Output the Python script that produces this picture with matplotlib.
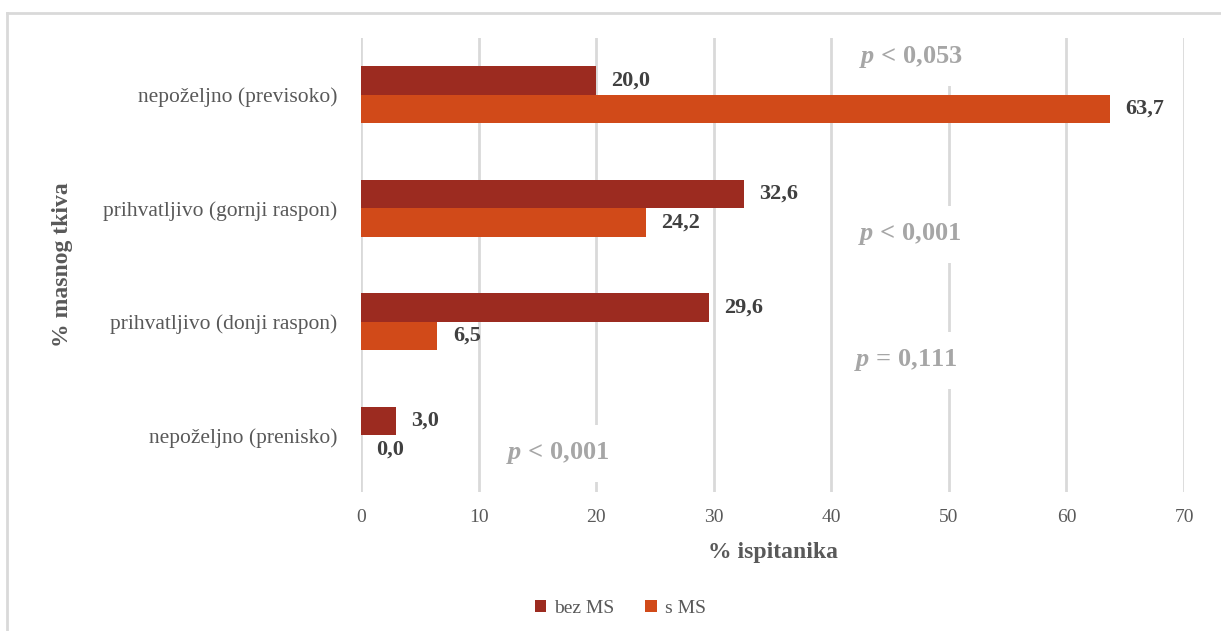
import matplotlib.pyplot as plt
from matplotlib.lines import Line2D
import numpy as np

plt.rcParams['font.family'] = ['Liberation Serif', 'DejaVu Serif']
plt.rcParams['mathtext.fontset'] = 'custom'
plt.rcParams['mathtext.it'] = 'Liberation Serif:italic:bold'
plt.rcParams['mathtext.rm'] = 'Liberation Serif:bold'

# categories top to bottom
categories = ['nepoželjno (previsoko)', 'prihvatljivo (gornji raspon)',
              'prihvatljivo (donji raspon)', 'nepoželjno (prenisko)']
bez_ms = [20.0, 32.6, 29.6, 3.0]
s_ms = [63.7, 24.2, 6.5, 0.0]
p_labels = ['< 0,053', '< 0,001', '= 0,111', '< 0,001']
p_x = [46.8, 46.7, 46.3, 16.7]
p_y = [-0.33, 1.23, 2.34, 3.16]

dark = '#9c2b20'
orange = '#d14a19'
txt = '#595959'

fig = plt.figure(figsize=(12.21, 6.31), dpi=100)
ax = fig.add_axes([0.2957, 0.2203, 0.6740, 0.7195])

y = np.arange(len(categories))
h = 0.25
ax.barh(y - h / 2, bez_ms, height=h, color=dark, label='bez MS')
ax.barh(y + h / 2, s_ms, height=h, color=orange, label='s MS')

for i in range(len(categories)):
    ax.text(bez_ms[i] + 1.3, y[i] - h / 2, ('%.1f' % bez_ms[i]).replace('.', ','),
            ha='left', va='center', fontsize=16, fontweight='bold', color='#404040')
    ax.text(s_ms[i] + 1.3, y[i] + h / 2, ('%.1f' % s_ms[i]).replace('.', ','),
            ha='left', va='center', fontsize=16, fontweight='bold', color='#404040')

for lab, px, py in zip(p_labels, p_x, p_y):
    ax.text(px, py, '$p$ ' + lab, ha='center', va='center',
            fontsize=19, fontweight='bold', color='#a6a6a6', zorder=5,
            bbox=dict(facecolor='white', edgecolor='none', pad=11))

ax.set_xlim(0, 70)
ax.set_ylim(3.5, -0.5)
ax.set_xticks(range(0, 71, 10))
ax.set_yticks(y)
ax.set_yticklabels(categories)
ax.tick_params(axis='x', length=0, pad=12, labelsize=14, labelcolor=txt)
ax.tick_params(axis='y', length=0, pad=17, labelsize=15.5, labelcolor=txt)
ax.grid(axis='x', color='#d9d9d9', linewidth=2)
ax.set_axisbelow(True)
for s in ax.spines.values():
    s.set_visible(False)

ax.set_xlabel('% ispitanika', fontsize=17, fontweight='bold', color=txt, labelpad=12)
ax.set_ylabel('% masnog tkiva', fontsize=17, fontweight='bold', color=txt, labelpad=22)

fig.legend(loc='center', bbox_to_anchor=(0.508, 0.036), ncol=2, frameon=False,
           fontsize=14, handlelength=0.6, handleheight=0.6, handletextpad=0.4,
           columnspacing=1.6, labelcolor=txt)

# outer frame (left and top edges)
fig.add_artist(Line2D([7 / 1221, 7 / 1221], [0, 1 - 13 / 631], color='#d9d9d9', lw=2))
fig.add_artist(Line2D([7 / 1221, 1], [1 - 13 / 631, 1 - 13 / 631], color='#d9d9d9', lw=2))

fig.savefig('out.png', dpi=100)
